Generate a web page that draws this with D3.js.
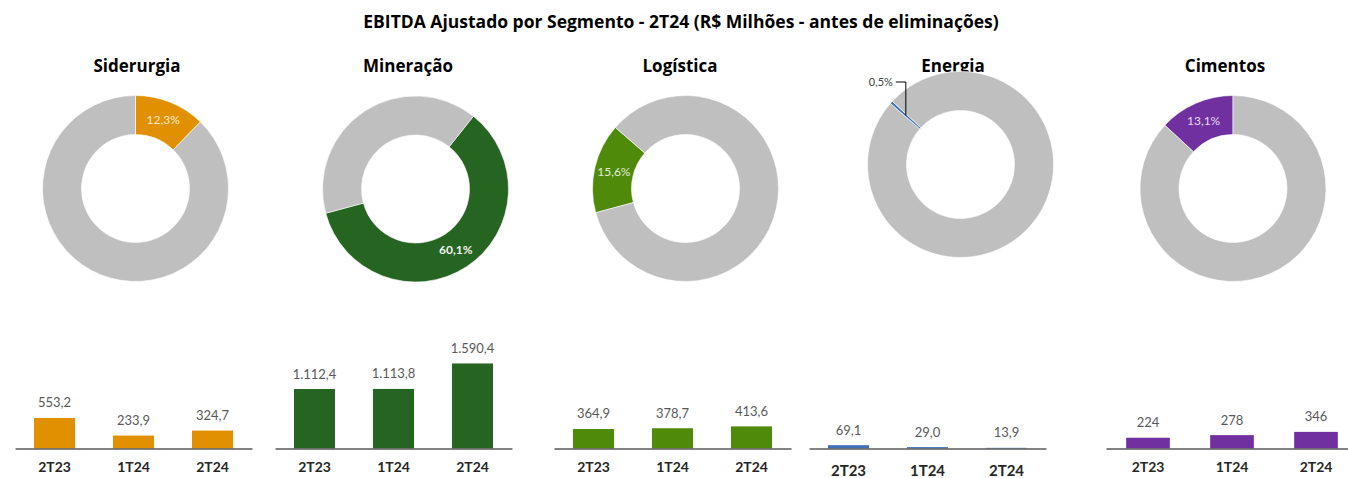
<!DOCTYPE html>
<html>
<head>
<meta charset="utf-8">
<script src="https://cdn.jsdelivr.net/npm/d3@7"></script>
<style>
  body { margin: 0; background: #fff; }
  svg { display: block; font-family: Lato, "Open Sans", sans-serif; }
</style>
</head>
<body>
<div id="chart"></div>
<script>
// dados
const segments = ["Siderurgia", "Mineração", "Logística", "Energia", "Cimentos"];
const shares = [12.3, 60.1, 15.6, 0.5, 13.1];
const periods = ["2T23", "1T24", "2T24"];
const siderurgiaValues = [553.2, 233.9, 324.7];
const mineracaoValues = [1112.4, 1113.8, 1590.4];
const logisticaValues = [364.9, 378.7, 413.6];
const energiaValues = [69.1, 29.0, 13.9];
const cimentosValues = [224, 278, 346];
const segmentValues = [siderurgiaValues, mineracaoValues, logisticaValues, energiaValues, cimentosValues];

const colors = ["#E09000", "#256421", "#4F8A0B", "#3F6FB5", "#7030A0"];
const restColor = "#BFBFBF";
const shareLabelColors = ["#FBE8C8", "#F2F2F2", "#E2F0D9", "#404040", "#E6DAF2"];

// layout
const width = 1348, height = 478;
const donutCx = [135.5, 415.5, 685.5, 960.5, 1233];
const donutCy = [188.5, 189, 188.5, 164.5, 188.5];
const titleX = [137, 408, 680, 953, 1225];
const barRange = [[15, 252], [275, 512], [554, 791], [809, 1046], [1106, 1358]];
const yMax = [1810, 1870, 1870, 2080, 2080];
const axisY = 448.5;

const locale = d3.formatLocale({ decimal: ",", thousands: ".", grouping: [3], currency: ["R$", ""] });
const fmt1 = locale.format(",.1f");
const fmt0 = locale.format(",.0f");
const fmtPct = v => locale.format(".1f")(v) + "%";

const svg = d3.select("#chart").append("svg")
    .attr("width", width)
    .attr("height", height);

svg.append("text")
    .attr("x", 681)
    .attr("y", 28)
    .attr("text-anchor", "middle")
    .style("font-family", "'Open Sans', sans-serif")
    .style("font-size", "17.5px")
    .style("font-weight", "bold")
    .style("fill", "#000")
    .text("EBITDA Ajustado por Segmento - 2T24 (R$ Milhões - antes de eliminações)");

// titulos primeiro (o anel de Energia fica por cima)
segments.forEach((name, i) => {
    svg.append("text")
        .attr("x", titleX[i])
        .attr("y", 72)
        .attr("text-anchor", "middle")
        .style("font-family", "'Open Sans', sans-serif")
        .style("font-size", "17px")
        .style("font-weight", "bold")
        .style("fill", "#000")
        .text(name);
});

const arc = d3.arc().innerRadius(54).outerRadius(93);

segments.forEach((name, i) => {
    // primeiro segmento comeca no topo, os outros contam a partir do fim
    const startFrac = i === 0 ? 0 : 1 - d3.sum(shares.slice(i)) / 100;
    const start = startFrac * 2 * Math.PI;
    const pie = d3.pie().sort(null).value(d => d)
        .startAngle(start).endAngle(start + 2 * Math.PI);
    const arcs = pie([shares[i], 100 - shares[i]]);

    const g = svg.append("g")
        .attr("transform", "translate(" + donutCx[i] + "," + donutCy[i] + ")");

    g.selectAll("path")
        .data(arcs)
        .enter()
        .append("path")
        .attr("d", arc)
        .style("fill", (d, j) => j === 0 ? colors[i] : restColor)
        .style("stroke", "#fff")
        .style("stroke-width", 0.6);

    const c = arc.centroid(arcs[0]);
    if (shares[i] < 2) {
        // rotulo externo com linha guia
        const ly = 82 - donutCy[i];
        g.append("path")
            .attr("d", "M" + c[0] + "," + c[1] + "V" + ly + "H" + (c[0] - 10))
            .style("fill", "none")
            .style("stroke", "#000")
            .style("stroke-width", 1);
        g.append("text")
            .attr("x", c[0] - 13)
            .attr("y", ly + 4)
            .attr("text-anchor", "end")
            .style("font-size", "11px")
            .style("fill", "#404040")
            .text(fmtPct(shares[i]));
    } else {
        g.append("text")
            .attr("x", c[0])
            .attr("y", c[1] + 4)
            .attr("text-anchor", "middle")
            .style("font-size", "12px")
            .style("font-weight", i === 1 ? "bold" : "normal")
            .style("fill", shareLabelColors[i])
            .text(fmtPct(shares[i]));
    }
});

// barras
segmentValues.forEach((values, i) => {
    const x = d3.scaleBand().domain(periods).range(barRange[i]).paddingInner(0.48).paddingOuter(0.24);
    const y = d3.scaleLinear().domain([0, yMax[i]]).range([axisY, axisY - 100]);
    const fmt = i === 4 ? fmt0 : fmt1;

    const g = svg.append("g");

    g.selectAll("rect")
        .data(values)
        .enter()
        .append("rect")
        .attr("x", (d, j) => x(periods[j]))
        .attr("y", d => y(d))
        .attr("width", x.bandwidth())
        .attr("height", d => axisY - y(d))
        .style("fill", colors[i]);

    g.selectAll("text.val")
        .data(values)
        .enter()
        .append("text")
        .attr("class", "val")
        .attr("x", (d, j) => x(periods[j]) + x.bandwidth() / 2)
        .attr("y", d => y(d) - 10.5)
        .attr("text-anchor", "middle")
        .style("font-size", "13px")
        .style("fill", "#595959")
        .text(d => fmt(d));

    const axis = g.append("g")
        .attr("transform", "translate(0," + axisY + ")")
        .call(d3.axisBottom(x).tickSize(0).tickSizeOuter(0).tickPadding(i === 3 ? 17 : 14));

    axis.select(".domain")
        .style("stroke", "#595959")
        .style("stroke-width", 1.5);

    axis.selectAll("text")
        .style("font-family", "Lato, sans-serif")
        .style("font-size", i === 3 ? "15px" : "14px")
        .style("font-weight", "bold")
        .style("fill", "#262626");
});
</script>
</body>
</html>
